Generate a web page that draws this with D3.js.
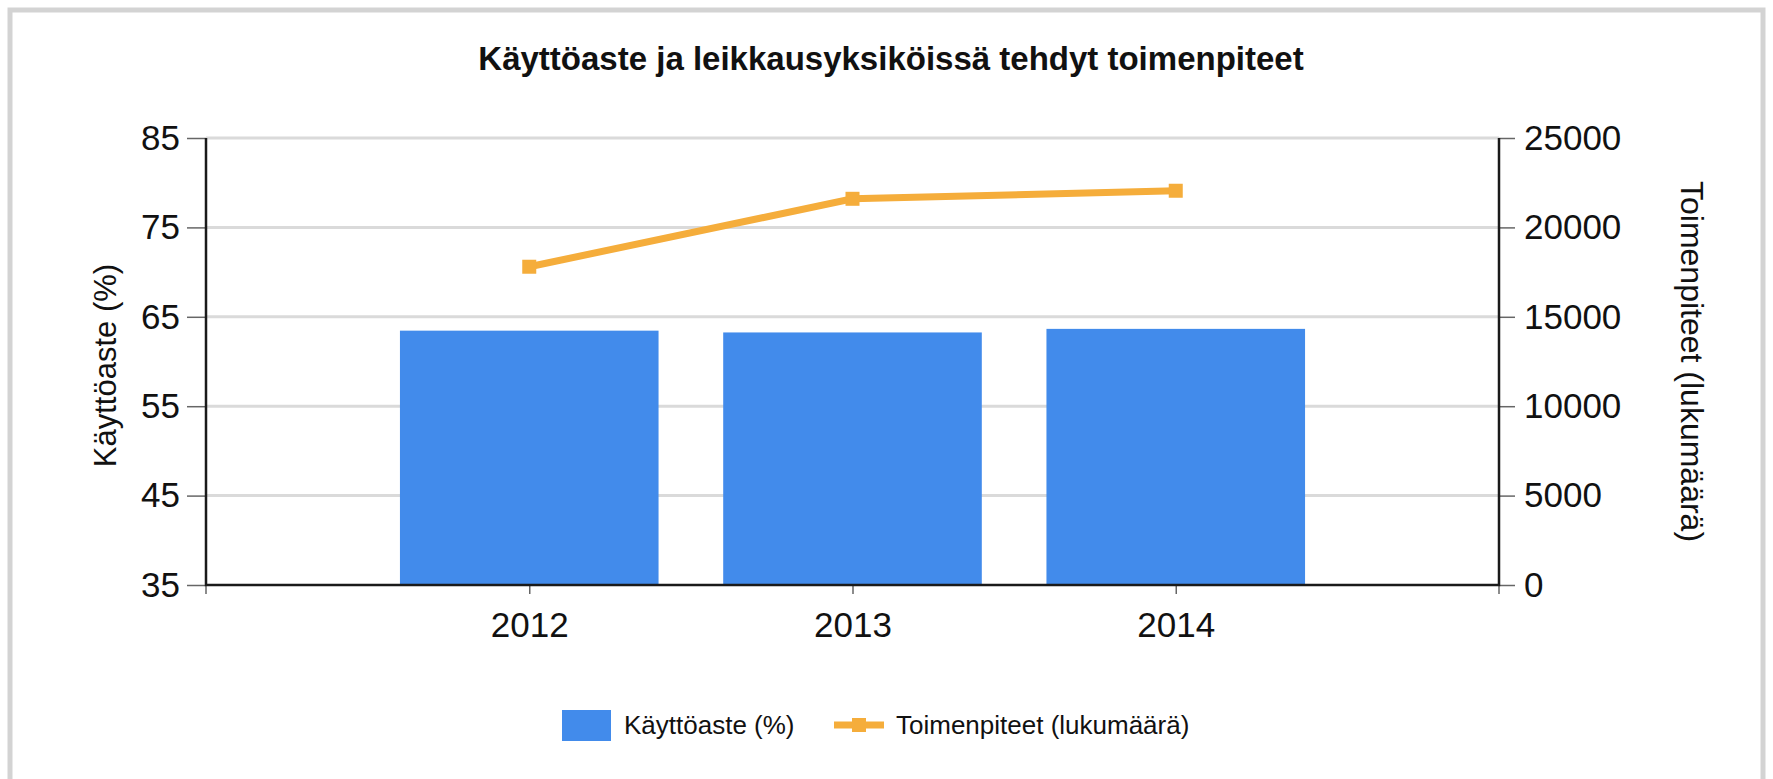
<!DOCTYPE html>
<html>
<head>
<meta charset="utf-8">
<script src="https://cdn.jsdelivr.net/npm/d3@7"></script>
<style>
  html, body { margin: 0; padding: 0; background: #fff; }
  svg { display: block; font-family: "Liberation Sans", Arial, sans-serif; }
</style>
</head>
<body>
<svg id="chart" width="1773" height="779"></svg>
<script>
// Data
const years = ['2012', '2013', '2014']
const kayttoaste = [63.45, 63.25, 63.65]        // %
const toimenpiteet = [17800, 21600, 22050]      // lukumäärä
const leftTicks = [35, 45, 55, 65, 75, 85]
const rightTicks = [0, 5000, 10000, 15000, 20000, 25000]

const title = 'Käyttöaste ja leikkausyksiköissä tehdyt toimenpiteet'
const leftTitle = 'Käyttöaste (%)'
const rightTitle = 'Toimenpiteet (lukumäärä)'

const barColor = '#428beb'
const lineColor = '#f5ad3b'

const svg = d3.select('#chart')
const W = 1773
const H = 779
const margin = { top: 138, right: W - 1499, bottom: H - 585, left: 206 }
const plotW = W - margin.left - margin.right
const plotH = H - margin.top - margin.bottom

// Frame round the whole chart
svg.append('rect')
  .attr('x', 10).attr('y', 10)
  .attr('width', W - 20).attr('height', H + 20)
  .attr('fill', 'none')
  .attr('stroke', '#d3d3d3')
  .attr('stroke-width', 5)

svg.append('text')
  .attr('x', 891)
  .attr('y', 70)
  .attr('text-anchor', 'middle')
  .attr('font-weight', 'bold')
  .attr('font-size', 33)
  .attr('fill', '#111')
  .text(title)

const g = svg.append('g')
  .attr('transform', `translate(${margin.left},${margin.top})`)

const x = d3.scalePoint().domain(years).range([0, plotW]).padding(1)
const barW = x.step() * 0.8
const yL = d3.scaleLinear().domain([35, 85]).range([plotH, 0])
const yR = d3.scaleLinear().domain([0, 25000]).range([plotH, 0])

// Gridlines
g.append('g')
  .attr('class', 'grid')
  .selectAll('line')
  .data(leftTicks.slice(1))
  .join('line')
  .attr('x1', 0).attr('x2', plotW)
  .attr('y1', d => yL(d)).attr('y2', d => yL(d))
  .attr('stroke', '#dadada')
  .attr('stroke-width', 3)

// Bars
g.append('g')
  .selectAll('rect')
  .data(years)
  .join('rect')
  .attr('x', d => x(d) - barW / 2)
  .attr('width', barW)
  .attr('y', (d, i) => yL(kayttoaste[i]))
  .attr('height', (d, i) => plotH - yL(kayttoaste[i]))
  .attr('fill', barColor)

// Line series on right axis
const line = d3.line()
  .x(d => x(d[0]))
  .y(d => yR(d[1]))

const pts = years.map((y, i) => [y, toimenpiteet[i]])

g.append('path')
  .datum(pts)
  .attr('d', line)
  .attr('fill', 'none')
  .attr('stroke', lineColor)
  .attr('stroke-width', 7)

g.append('g')
  .selectAll('rect')
  .data(pts)
  .join('rect')
  .attr('x', d => x(d[0]) - 7)
  .attr('y', d => yR(d[1]) - 7)
  .attr('width', 14)
  .attr('height', 14)
  .attr('fill', lineColor)

// Axes
function styleAxis (sel) {
  sel.select('.domain').remove()
  sel.selectAll('.tick line').attr('stroke', '#666').attr('stroke-width', 1.5)
  sel.selectAll('.tick text')
    .attr('font-size', 35)
    .attr('fill', '#111')
    .attr('font-family', '"Liberation Sans", Arial, sans-serif')
}

g.append('g')
  .call(d3.axisLeft(yL).tickValues(leftTicks).tickSize(19).tickPadding(7))
  .call(styleAxis)

g.append('g')
  .attr('transform', `translate(${plotW},0)`)
  .call(d3.axisRight(yR).tickValues(rightTicks).tickFormat(d3.format('d'))
    .tickSize(16).tickPadding(9))
  .call(styleAxis)

const xAxis = g.append('g')
  .attr('transform', `translate(0,${plotH})`)
  .call(d3.axisBottom(x).tickSize(9).tickPadding(18))
  .call(styleAxis)

// ticks at both ends of the x axis
xAxis.selectAll('.edge')
  .data([0, plotW])
  .join('line')
  .attr('class', 'edge')
  .attr('x1', d => d).attr('x2', d => d)
  .attr('y1', 0).attr('y2', 9)
  .attr('stroke', '#666')
  .attr('stroke-width', 1.5)

// Axis lines
g.append('path')
  .attr('d', `M0,0V${plotH}H${plotW}V0`)
  .attr('fill', 'none')
  .attr('stroke', '#1a1a1a')
  .attr('stroke-width', 2.5)

// Axis titles
svg.append('text')
  .attr('transform', `translate(105,${margin.top + plotH / 2 + 4}) rotate(-90)`)
  .attr('text-anchor', 'middle')
  .attr('dominant-baseline', 'central')
  .attr('font-size', 31)
  .attr('fill', '#111')
  .text(leftTitle)

svg.append('text')
  .attr('transform', `translate(1692,${margin.top + plotH / 2}) rotate(90)`)
  .attr('text-anchor', 'middle')
  .attr('dominant-baseline', 'central')
  .attr('font-size', 32)
  .attr('fill', '#111')
  .text(rightTitle)

// Legend
const legend = svg.append('g').attr('transform', 'translate(562,725)')
legend.append('rect')
  .attr('x', 0).attr('y', -15)
  .attr('width', 49).attr('height', 31)
  .attr('fill', barColor)
legend.append('text')
  .attr('x', 62).attr('y', 0)
  .attr('dominant-baseline', 'central')
  .attr('font-size', 26)
  .attr('fill', '#111')
  .text(leftTitle)
legend.append('line')
  .attr('x1', 272).attr('x2', 322)
  .attr('y1', 0).attr('y2', 0)
  .attr('stroke', lineColor)
  .attr('stroke-width', 7)
legend.append('rect')
  .attr('x', 290).attr('y', -7)
  .attr('width', 14).attr('height', 14)
  .attr('fill', lineColor)
legend.append('text')
  .attr('x', 334).attr('y', 0)
  .attr('dominant-baseline', 'central')
  .attr('font-size', 26)
  .attr('fill', '#111')
  .text(rightTitle)
</script>
</body>
</html>
